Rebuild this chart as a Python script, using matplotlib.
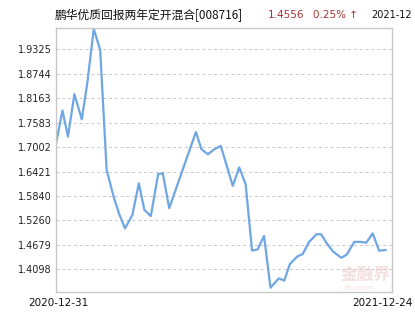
import numpy as np
import matplotlib
matplotlib.use("Agg")
import matplotlib.pyplot as plt
import matplotlib.dates as mdates
from datetime import date, timedelta

plt.rcParams['font.family'] = ['Noto Sans CJK SC', 'DejaVu Sans']

# fund NAV (days after 2020-12-31, value)
start = date(2020, 12, 31)
day_offsets = [0, 7, 13, 20, 28, 34, 41, 48, 55, 63, 69, 75, 83, 90, 96, 103, 111, 116,
               123, 152, 158, 165, 172, 179, 192, 199, 206, 213, 219, 226, 233, 242, 248,
               254, 262, 268, 275, 283, 288, 294, 301, 310, 316, 324, 330, 337, 344, 351, 358]
nav = [1.708, 1.787, 1.725, 1.826, 1.766, 1.852, 1.981, 1.931, 1.646, 1.579, 1.539, 1.507,
       1.539, 1.614, 1.551, 1.536, 1.636, 1.638, 1.555, 1.736, 1.695, 1.683, 1.695, 1.703,
       1.608, 1.652, 1.612, 1.454, 1.457, 1.489, 1.366, 1.388, 1.383, 1.422, 1.440, 1.446,
       1.475, 1.493, 1.493, 1.472, 1.452, 1.437, 1.445, 1.475, 1.475, 1.473, 1.495, 1.454,
       1.4556]
ytick_vals = [1.4098, 1.4679, 1.5260, 1.5840, 1.6421, 1.7002, 1.7583, 1.8163, 1.8744, 1.9325]
ytick_labels = ["1.4098", "1.4679", "1.5260", "1.5840", "1.6421", "1.7002", "1.7583",
                "1.8163", "1.8744", "1.9325"]

fund_name = "鹏华优质回报两年定开混合[008716]"
last_nav = "1.4556"
last_chg = "0.25% ↑"
head_date = "2021-12"   # the header date is cut at the right edge in the source
last_date = "2021-12-24"
first_date = "2020-12-31"

dates = [start + timedelta(days=d) for d in day_offsets]

fig = plt.figure(figsize=(4.15, 3.3), dpi=100)
ax = fig.add_axes([56/415, 38/330, 336/415, 264.3/330])

ax.plot(dates, nav, color='#6fa6e4', lw=1.6, solid_joinstyle='round')

ax.set_xlim(start, date(2021, 12, 31))
ax.set_ylim(1.3558, 1.9838)
ax.set_yticks(ytick_vals)
ax.set_yticklabels(ytick_labels, fontsize=7, family='DejaVu Sans')
ax.set_xticks([])
ax.tick_params(axis='y', length=0, pad=3, colors='#222222')
ax.grid(axis='y', color='#c8c8c8', ls=(0, (3, 3)), lw=0.7)
for s in ax.spines.values():
    s.set_color('#c8c8c8')
    s.set_linewidth(1)

# watermark
ax.text(0.92, 0.065, "金融界", transform=ax.transAxes, fontsize=12, color='#e8b8b8',
        alpha=0.45, ha='center', va='center', fontweight='bold')
ax.text(0.90, 0.015, "JRJ.com", transform=ax.transAxes, fontsize=5.5, color='#e8b8b8',
        alpha=0.45, ha='center', va='center', style='italic')

# header line
fig.text(55/415, 1 - 15/330, fund_name, fontsize=8.5, color='#111111', va='center')
fig.text(268/415, 1 - 15/330, last_nav, fontsize=7.5, color='#a83232', va='center',
         family='DejaVu Sans')
fig.text(313/415, 1 - 15/330, last_chg, fontsize=7.5, color='#a83232', va='center',
         family='DejaVu Sans')
fig.text(412/415, 1 - 15/330, head_date, fontsize=7, color='#111111', va='center',
         ha='right', family='DejaVu Sans')

# x labels
fig.text(58/415, 1 - 303/330, first_date, fontsize=7.5, color='#111111', ha='center',
         va='center', family='DejaVu Sans')
fig.text(382/415, 1 - 303/330, last_date, fontsize=7.5, color='#111111', ha='center',
         va='center', family='DejaVu Sans')

fig.savefig("out.png", dpi=100)
